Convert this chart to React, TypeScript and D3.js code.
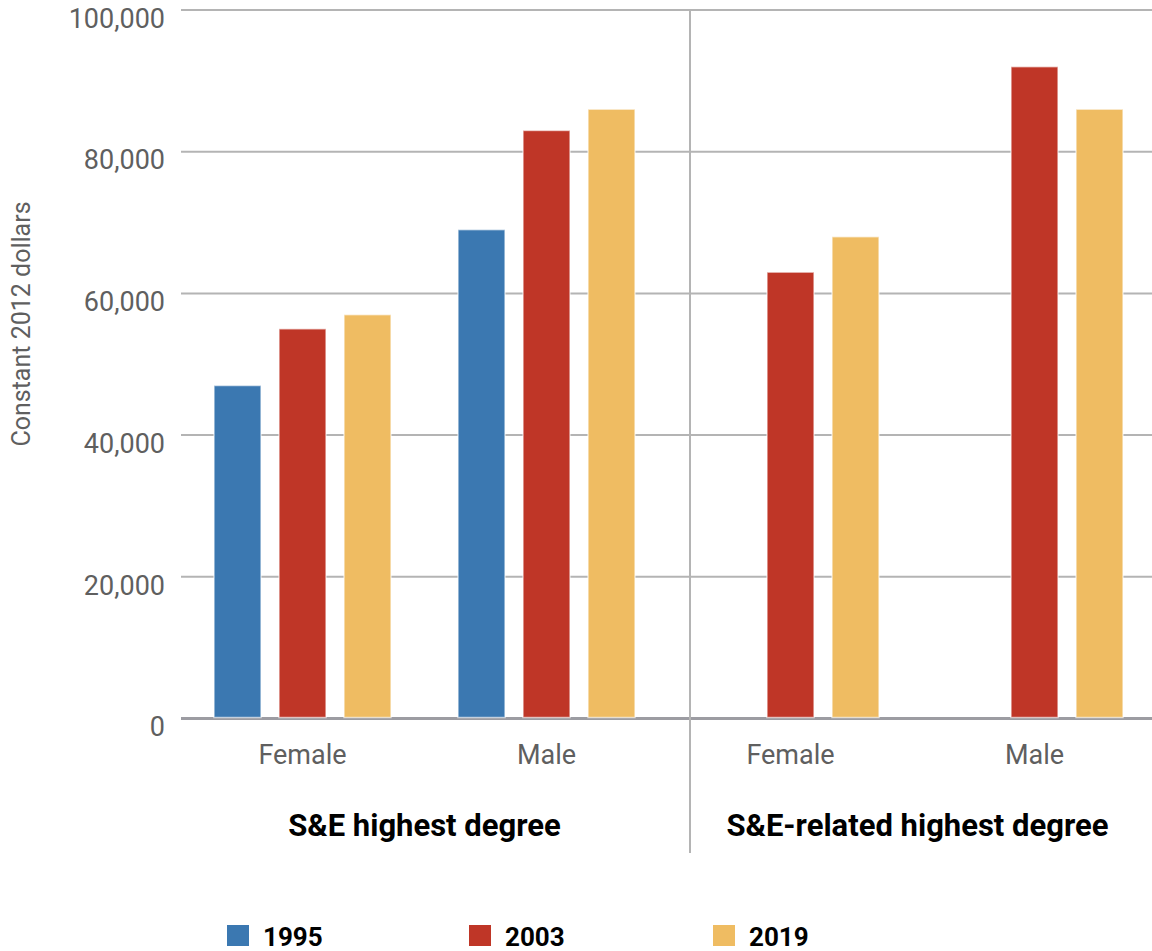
import React from "react";
import * as d3 from "d3";

const categories = ["Female", "Male", "Female ", "Male "];
const series = ["1995", "2003", "2019"];
const colors = ["#3b78b1", "#bf3627", "#efbc62"];
const values1995 = [47000, 69000, null, null];
const values2003 = [55000, 83000, 63000, 92000];
const values2019 = [57000, 86000, 68000, 86000];
const yTicks = [0, 20000, 40000, 60000, 80000, 100000];
const groupLabels = ["S&E highest degree", "S&E-related highest degree"];

const W = 1152;
const H = 951;

export default function App() {
  const data = [values1995, values2003, values2019];
  const y = d3.scaleLinear().domain([0, 100000]).range([718.5, 10]);
  const x = d3.scaleBand<string>().domain(categories).range([180.5, 1156.5]).padding(0);
  const inner = d3
    .scaleBand<string>()
    .domain(series)
    .range([-97.5, 97.5])
    .paddingInner(0.277)
    .paddingOuter(0.1385);
  const fmt = d3.format(",");
  const font = "Roboto, 'Noto Sans', sans-serif";
  const groupCenters = [
    (x(categories[0])! + x(categories[1])! + x.bandwidth()) / 2,
    (x(categories[2])! + x(categories[3])! + x.bandwidth()) / 2 + 5,
  ];
  const legendX = [227, 469, 713];

  return (
    <svg
      width={W}
      height={H}
      style={{ position: "absolute", left: 0, top: 0, background: "#fff" }}
      fontFamily={font}
    >
      {yTicks.slice(1).map((t) => (
        <line key={t} x1={181} x2={W} y1={y(t)} y2={y(t)} stroke="#b4b4b4" strokeWidth={2} />
      ))}
      <line x1={181} x2={W} y1={y(0)} y2={y(0)} stroke="#9c9ca2" strokeWidth={3} />
      <line x1={690} x2={690} y1={10} y2={853} stroke="#b4b4b4" strokeWidth={2} />
      {yTicks.map((t) => (
        <text
          key={t}
          x={165}
          y={y(t) + 8}
          dy="0.36em"
          textAnchor="end"
          fontSize={27}
          fill="#5f5f5f"
        >
          {fmt(t)}
        </text>
      ))}
      <text
        transform={`translate(30,${324}) rotate(-90)`}
        textAnchor="middle"
        fontSize={25}
        fill="#5f5f5f"
      >
        Constant 2012 dollars
      </text>
      {categories.map((c, ci) => (
        <g key={c}>
          {series.map((s, si) => {
            const v = data[si][ci];
            if (v == null) return null;
            const cx = x(c)! + x.bandwidth() / 2;
            return (
              <rect
                key={s}
                x={cx + inner(s)!}
                width={inner.bandwidth()}
                y={y(v)}
                height={y(0) - y(v) - 1}
                fill={colors[si]}
                stroke="#fff"
                strokeOpacity={0.6}
                strokeWidth={1.5}
              />
            );
          })}
          <text
            x={x(c)! + x.bandwidth() / 2}
            y={764}
            textAnchor="middle"
            fontSize={27}
            fill="#5f5f5f"
          >
            {c.trim()}
          </text>
        </g>
      ))}
      {groupLabels.map((g, i) => (
        <text
          key={g}
          x={groupCenters[i]}
          y={836}
          textAnchor="middle"
          fontSize={31}
          fontWeight="bold"
          fill="#000"
        >
          {g}
        </text>
      ))}
      {series.map((s, i) => (
        <g key={s}>
          <rect x={legendX[i]} y={925} width={22} height={21} fill={colors[i]} />
          <text x={legendX[i] + 36} y={946} fontSize={26} fontWeight="bold" fill="#000">
            {s}
          </text>
        </g>
      ))}
    </svg>
  );
}
